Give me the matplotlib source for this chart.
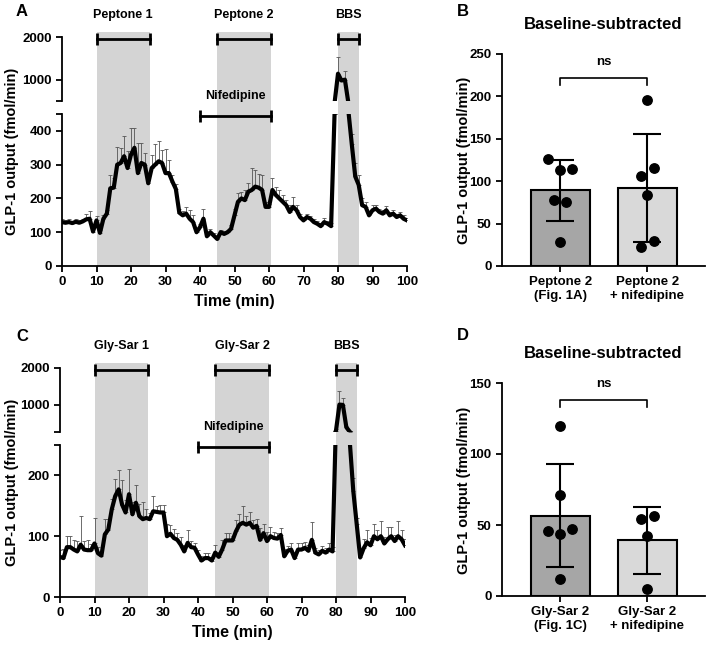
import matplotlib
matplotlib.use('Agg')
import matplotlib.pyplot as plt
import matplotlib.transforms as mtransforms
import numpy as np

plt.rcParams['font.family'] = ['Liberation Sans', 'DejaVu Sans']
plt.rcParams['font.weight'] = 'bold'
plt.rcParams['axes.labelweight'] = 'bold'
plt.rcParams['axes.linewidth'] = 1.3
plt.rcParams['xtick.major.width'] = 1.3
plt.rcParams['ytick.major.width'] = 1.3
plt.rcParams['xtick.major.size'] = 4
plt.rcParams['ytick.major.size'] = 4

# --- data ---
time_min = np.arange(0, 101)

peptone_mean = [130, 128, 130, 127, 131, 128, 132, 138, 140, 102,
                135, 98, 140, 155, 230, 232, 300, 305, 325, 290,
                330, 350, 275, 305, 300, 245, 290, 300, 310, 305,
                275, 275, 250, 228, 158, 150, 155, 140, 130, 100,
                115, 140, 88, 100, 90, 80, 100, 95, 100, 110,
                150, 190, 200, 195, 220, 225, 235, 232, 225, 175,
                175, 225, 210, 200, 190, 180, 160, 175, 165, 145,
                135, 145, 140, 130, 125, 118, 130, 125, 118, 450,
                1140, 980, 1000, 460, 360, 265, 240, 180, 175, 150,
                165, 170, 160, 155, 165, 150, 155, 145, 150, 140, 135]
peptone_err = [8, 8, 8, 7, 8, 8, 8, 15, 22, 10,
               12, 8, 10, 10, 38, 30, 52, 45, 60, 50,
               80, 60, 90, 58, 36, 25, 38, 62, 60, 38,
               70, 40, 20, 15, 12, 12, 20, 25, 20, 10,
               8, 30, 10, 10, 8, 8, 8, 8, 8, 10,
               20, 25, 20, 30, 25, 65, 50, 40, 45, 15,
               10, 35, 25, 25, 20, 15, 20, 30, 15, 10,
               10, 10, 8, 8, 8, 8, 12, 8, 8, 0,
               380, 50, 200, 0, 30, 40, 30, 20, 15, 10,
               15, 12, 10, 10, 12, 10, 10, 10, 10, 10, 8]

glysar_mean = [66, 64, 82, 82, 78, 75, 86, 78, 77, 77,
               88, 72, 68, 103, 111, 144, 166, 177, 152, 139,
               169, 136, 155, 133, 128, 130, 128, 141, 140, 139,
               139, 100, 104, 97, 94, 86, 75, 89, 82, 81,
               70, 60, 64, 64, 60, 73, 66, 78, 93, 93,
               93, 108, 119, 122, 119, 122, 114, 117, 94, 105,
               92, 100, 97, 96, 102, 67, 76, 78, 64, 78,
               78, 81, 76, 94, 73, 70, 76, 73, 78, 75,
               290, 1000, 990, 380, 255, 175, 120, 65, 80, 90,
               85, 100, 95, 100, 88, 95, 100, 92, 100, 95, 85]
glysar_err = [12, 15, 18, 19, 15, 17, 48, 14, 16, 10,
              42, 10, 8, 25, 18, 17, 28, 32, 40, 20,
              41, 20, 30, 20, 28, 15, 10, 25, 10, 12,
              12, 20, 15, 15, 12, 12, 10, 22, 10, 8,
              8, 8, 8, 8, 5, 12, 8, 15, 12, 12,
              8, 18, 18, 28, 15, 18, 12, 12, 20, 15,
              15, 15, 10, 10, 12, 12, 8, 10, 8, 10,
              10, 10, 10, 30, 8, 8, 8, 8, 10, 8,
              30, 380, 180, 30, 20, 20, 10, 10, 15, 20,
              12, 20, 15, 25, 10, 20, 15, 10, 25, 15, 10]

b_labels = ['Peptone 2\n(Fig. 1A)', 'Peptone 2\n+ nifedipine']
b_control = [126, 113, 114, 78, 76, 28]
b_nifedipine = [196, 116, 106, 84, 30, 22]

d_labels = ['Gly-Sar 2\n(Fig. 1C)', 'Gly-Sar 2\n+ nifedipine']
d_control = [120, 71, 46, 47, 44, 12]
d_nifedipine = [54, 56, 42, 5]

W, H = 709, 647
fig = plt.figure(figsize=(W / 100, H / 100), dpi=100)


def fig_rect(x0, y_top, w, h):
    return [x0 / W, 1 - (y_top + h) / H, w / W, h / H]


SHADE = '#d4d4d4'


def bracket(ax, x0, x1, y, transform):
    ax.plot([x0, x1], [y, y], color='black', lw=2, marker='|', markersize=9,
            mew=2, transform=transform, clip_on=False, zorder=5)


def timecourse(ax_top, ax_bot, mean, err, top_lim, bot_lim, bot_ticks,
               stim_labels):
    err_lo = np.zeros(len(err))
    for ax in (ax_top, ax_bot):
        ax.errorbar(time_min, mean, yerr=[err_lo, err], fmt='none',
                    ecolor='#555555', elinewidth=0.6, capsize=1.5,
                    capthick=0.6, zorder=2)
        ax.plot(time_min, mean, color='black', lw=3, zorder=3)
        ax.set_xlim(0, 100)
        ax.spines['top'].set_visible(False)
        ax.spines['right'].set_visible(False)
        ax.tick_params(labelsize=9.5)

    # upper segment
    ax_top.set_facecolor('none')
    ax_top.spines['bottom'].set_visible(False)
    ax_top.set_xticks([])
    ax_top.set_ylim(*top_lim)
    ax_top.set_yticks([top_lim[0], 1000, 2000])
    ax_top.set_yticklabels(['', '1000', '2000'])

    # lower segment
    ax_bot.set_ylim(*bot_lim)
    ax_bot.set_yticks(bot_ticks + [bot_lim[1]])
    ax_bot.set_yticklabels([str(v) for v in bot_ticks] + [''])
    ax_bot.set_xticks(np.arange(0, 101, 10))
    ax_bot.set_xlabel('Time (min)', fontsize=11.5, labelpad=4)

    # shaded stimulation windows span both segments
    for x0, x1 in [(10, 25.5), (45, 60.5), (80, 86)]:
        ax_bot.axvspan(x0, x1, ymin=0, ymax=1.54, color=SHADE, lw=0,
                       zorder=0, clip_on=False)

    tr_top = mtransforms.blended_transform_factory(ax_top.transData, ax_top.transAxes)
    tr_bot = mtransforms.blended_transform_factory(ax_bot.transData, ax_bot.transAxes)
    for (x0, x1), lab in zip([(10, 25.5), (45, 60.5), (80, 86)], stim_labels):
        bracket(ax_top, x0, x1, 0.97, tr_top)
        ax_top.text((x0 + x1) / 2, 1.34, lab, transform=tr_top, ha='center',
                    va='center', fontsize=9)
    bracket(ax_bot, 40, 60.5, 0.985, tr_bot)
    ax_bot.text(50.25, 1.12, 'Nifedipine', transform=tr_bot, ha='center',
                va='center', fontsize=9)


def bar_panel(ax, labels, groups, offsets, ymax, ystep, ns_y, title):
    means = [np.mean(g) for g in groups]
    sds = [np.std(g, ddof=1) for g in groups]
    x = np.arange(len(groups))
    ax.bar(x, means, width=0.68, color=['#a6a6a6', '#d9d9d9'],
           edgecolor='black', lw=1.5, zorder=1)
    ax.errorbar(x, means, yerr=sds, fmt='none', ecolor='black',
                elinewidth=1.5, capsize=10, capthick=1.5, zorder=3)
    for xi, g, off in zip(x, groups, offsets):
        ax.scatter(xi + np.array(off), g, s=46, color='black', zorder=4,
                   clip_on=False)
    ax.set_xlim(-0.67, 1.66)
    ax.set_ylim(0, ymax)
    ax.set_yticks(np.arange(0, ymax + 1, ystep))
    ax.set_xticks(x)
    ax.set_xticklabels(labels, fontsize=9.5)
    ax.tick_params(labelsize=9.5)
    ax.tick_params(axis='x', labelsize=9.5)
    ax.spines['top'].set_visible(False)
    ax.spines['right'].set_visible(False)
    leg = ymax * 0.033
    ax.plot([0, 0, 1, 1], [ns_y - leg, ns_y, ns_y, ns_y - leg], color='black',
            lw=1.2, zorder=5)
    ax.text(0.5, ns_y + ymax * 0.045, 'ns', ha='center', va='bottom', fontsize=9.5)
    ax.set_title(title, fontsize=12, fontweight='bold', pad=18)


# --- panel A ---
ax_a_top = fig.add_axes(fig_rect(62, 37, 345, 64))
ax_a_bot = fig.add_axes(fig_rect(62, 114, 345, 152))
timecourse(ax_a_top, ax_a_bot, peptone_mean, peptone_err, (500, 2000),
           (0, 450), [0, 100, 200, 300, 400], ['Peptone 1', 'Peptone 2', 'BBS'])
fig.text(12 / W, 1 - 151 / H, 'GLP-1 output (fmol/min)', rotation=90,
         ha='center', va='center', fontsize=10.5)

# --- panel C ---
ax_c_top = fig.add_axes(fig_rect(60, 368, 345, 64))
ax_c_bot = fig.add_axes(fig_rect(60, 445, 345, 152))
timecourse(ax_c_top, ax_c_bot, glysar_mean, glysar_err, (250, 2000),
           (0, 250), [0, 100, 200], ['Gly-Sar 1', 'Gly-Sar 2', 'BBS'])
fig.text(12 / W, 1 - 482 / H, 'GLP-1 output (fmol/min)', rotation=90,
         ha='center', va='center', fontsize=10.5)

# bring upper segments in front of the lower-axis shading
for ax in (ax_a_top, ax_c_top):
    ax.set_zorder(2)

# --- panel B ---
ax_b = fig.add_axes(fig_rect(502, 54, 203, 212))
bar_panel(ax_b, b_labels, [b_control, b_nifedipine],
          [[-0.14, 0.0, 0.13, -0.07, 0.07, 0.0], [0.0, 0.07, -0.08, 0.0, 0.07, -0.07]],
          250, 50, 222, 'Baseline-subtracted')
fig.text(464 / W, 1 - 160 / H, 'GLP-1 output (fmol/min)', rotation=90,
         ha='center', va='center', fontsize=10.5)

# --- panel D ---
ax_d = fig.add_axes(fig_rect(502, 383, 203, 213))
bar_panel(ax_d, d_labels, [d_control, d_nifedipine],
          [[0.0, 0.0, -0.14, 0.13, 0.0, 0.0], [-0.07, 0.08, 0.0, 0.0]],
          150, 50, 138, 'Baseline-subtracted')
fig.text(464 / W, 1 - 490 / H, 'GLP-1 output (fmol/min)', rotation=90,
         ha='center', va='center', fontsize=10.5)

# panel letters
for lab, (px, py) in zip('ABCD', [(22, 12), (463, 12), (22, 337), (463, 336)]):
    fig.text(px / W, 1 - py / H, lab, fontsize=12, fontweight='bold',
             ha='center', va='center')

fig.savefig('out.png', dpi=100, facecolor='white')
